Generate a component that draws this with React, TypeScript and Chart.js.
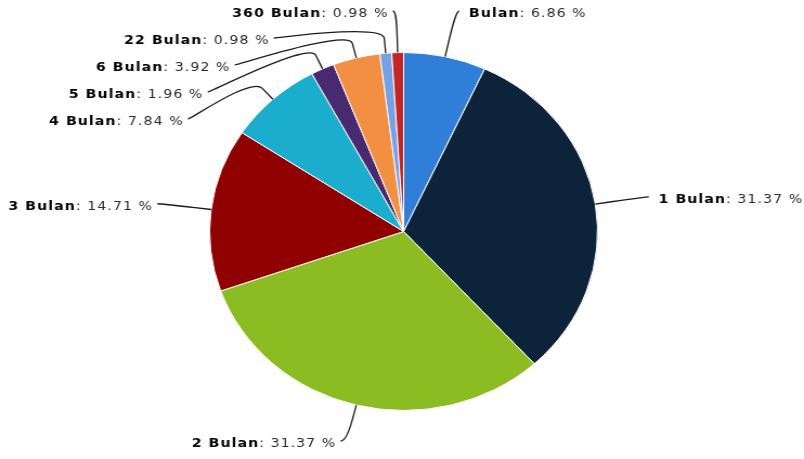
import React, { useEffect, useRef } from 'react';
import { Chart, registerables } from 'chart.js';

Chart.register(...registerables);

const categories = ['Bulan', '1 Bulan', '2 Bulan', '3 Bulan', '4 Bulan', '5 Bulan', '6 Bulan', '22 Bulan', '360 Bulan'];
const counts = [7, 32, 32, 15, 8, 2, 4, 1, 1];
const sliceColors = ['#2f7ed8', '#0d233a', '#8bbc21', '#910000', '#1aadce', '#492970', '#f28f43', '#77a1e5', '#c42525'];

const CANVAS_W = 742;
const CANVAS_H = 459;
const DISPLAY_W = 804;

const FONT_BOLD = 'bold 13px "DejaVu Sans", Verdana, sans-serif';
const FONT_NORMAL = '13px "DejaVu Sans", Verdana, sans-serif';

const pieLabelPlugin = {
  id: 'pieLabels',
  afterDatasetsDraw(chart: any) {
    const ctx: CanvasRenderingContext2D = chart.ctx;
    const meta = chart.getDatasetMeta(0);
    const data = chart.data.datasets[0].data as number[];
    const labels = chart.data.labels as string[];
    const total = data.reduce((a, b) => a + b, 0);
    const distance = 47;
    const connectorOffset = 15;
    const slotH = 27;
    const textShift = 3;
    const top = 14;
    const bottom = chart.height - 15;

    const items = meta.data.map((arc: any, i: number) => {
      const p = arc.getProps(['x', 'y', 'startAngle', 'endAngle', 'outerRadius'], true);
      const mid = (p.startAngle + p.endAngle) / 2;
      const R = p.outerRadius + distance;
      const cos = Math.cos(mid);
      const sin = Math.sin(mid);
      return {
        i, cx: p.x, cy: p.y, r: p.outerRadius, R, cos, sin,
        left: cos < 0, ny: p.y + sin * R, y: 0, x: 0,
      };
    });

    [true, false].forEach((side) => {
      const list = items.filter((it: any) => it.left === side).sort((a: any, b: any) => a.ny - b.ny);
      list.forEach((it: any, k: number) => {
        let y = Math.max(it.ny + textShift, top);
        if (k > 0) y = Math.max(y, list[k - 1].y + slotH);
        it.y = y;
      });
      for (let k = list.length - 1; k >= 0; k--) {
        const lim = k === list.length - 1 ? bottom : list[k + 1].y - slotH;
        if (list[k].y > lim) list[k].y = lim;
      }
      list.forEach((it: any, k: number) => {
        const yx = k === 0 || k === list.length - 1 ? it.ny : it.y - textShift;
        const dy = yx - it.cy;
        const dx = Math.sqrt(Math.max(0, it.R * it.R - dy * dy));
        it.x = it.cx + (it.left ? -dx : dx);
      });
    });

    ctx.save();
    items.forEach((it: any) => {
      const bx = it.cx + it.cos * (it.r + connectorOffset);
      const by = it.cy + it.sin * (it.r + connectorOffset);
      const ex = it.cx + it.cos * it.r;
      const ey = it.cy + it.sin * it.r;
      const cyLine = it.y - textShift;
      ctx.strokeStyle = '#1a1a1a';
      ctx.lineWidth = 1.3;
      ctx.beginPath();
      ctx.moveTo(it.x + (it.left ? -3 : 3), cyLine);
      ctx.bezierCurveTo(it.x, cyLine, 2 * bx - ex, 2 * by - ey, bx, by);
      ctx.lineTo(ex, ey);
      ctx.stroke();

      const name = labels[it.i];
      const valueText = ': ' + ((data[it.i] / total) * 100).toFixed(2) + ' %';
      (ctx as any).letterSpacing = '1px';
      ctx.font = FONT_BOLD;
      const w1 = ctx.measureText(name).width;
      ctx.font = FONT_NORMAL;
      const w2 = ctx.measureText(valueText).width;
      const tx = it.left ? it.x - 8 - (w1 + w2 - 1) : it.x + 12;
      ctx.textAlign = 'left';
      ctx.textBaseline = 'middle';
      ctx.font = FONT_BOLD;
      ctx.fillStyle = '#000000';
      ctx.fillText(name, tx, it.y);
      ctx.font = FONT_NORMAL;
      ctx.fillStyle = '#2b2b2b';
      ctx.fillText(valueText, tx + w1, it.y);
    });
    ctx.restore();
  },
};

export default function App() {
  const canvasRef = useRef<HTMLCanvasElement | null>(null);

  useEffect(() => {
    document.body.style.margin = '0';
    const canvas = canvasRef.current;
    if (!canvas) return;
    const chart = new Chart(canvas, {
      type: 'pie',
      data: {
        labels: categories,
        datasets: [
          {
            data: counts,
            backgroundColor: sliceColors,
            borderColor: '#ffffff',
            borderWidth: 1,
            radius: 179,
          } as any,
        ],
      },
      options: {
        responsive: false,
        animation: false,
        layout: { padding: { left: 3, top: 4, right: 0, bottom: 0 } },
        plugins: {
          legend: { display: false },
          tooltip: { enabled: false },
        },
      },
      plugins: [pieLabelPlugin],
    });
    return () => chart.destroy();
  }, []);

  return (
    <div style={{ width: DISPLAY_W, height: CANVAS_H, background: '#ffffff' }}>
      <canvas
        ref={canvasRef}
        width={CANVAS_W}
        height={CANVAS_H}
        style={{ width: DISPLAY_W + 'px', height: CANVAS_H + 'px', display: 'block' }}
      />
    </div>
  );
}
